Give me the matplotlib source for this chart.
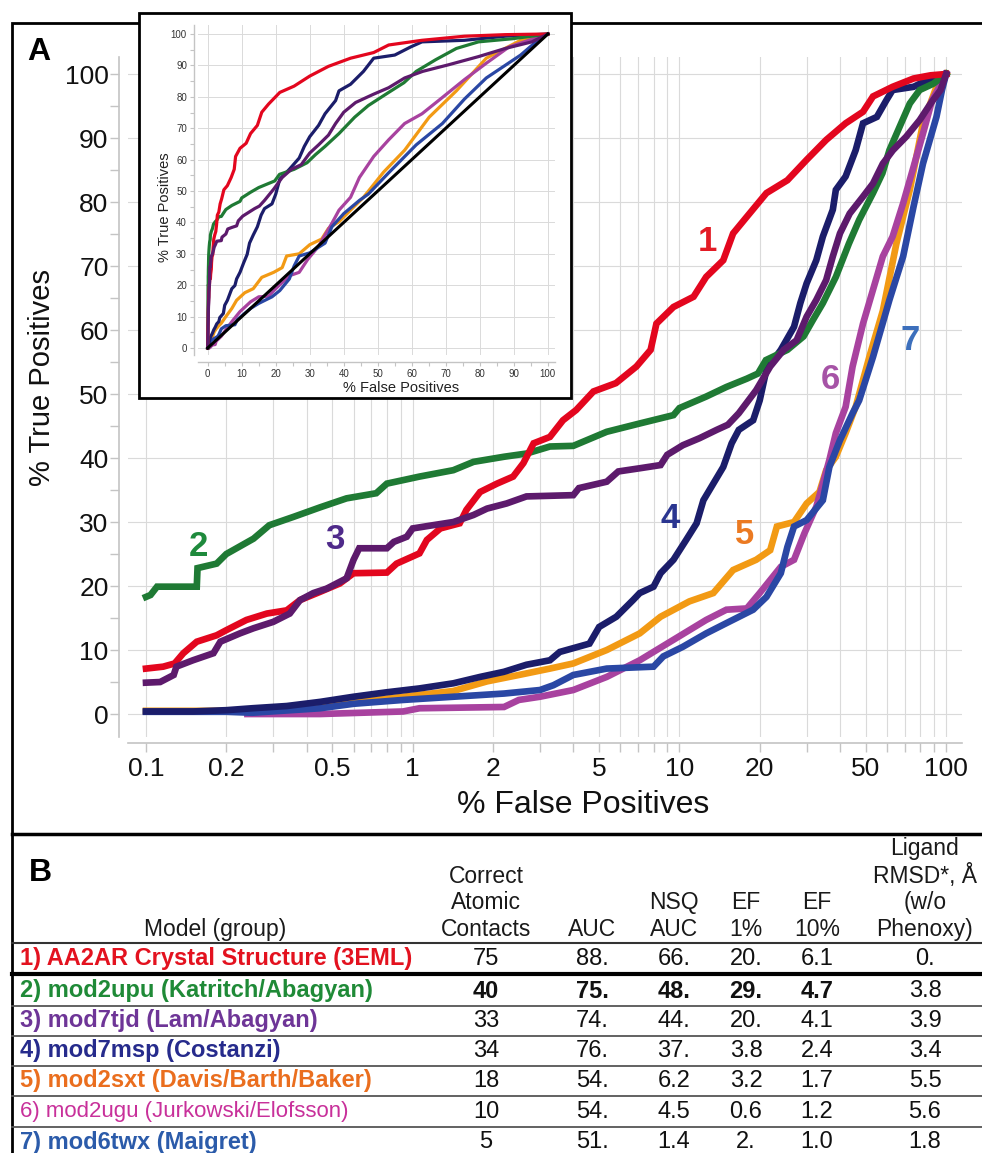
import numpy as np
import matplotlib
matplotlib.use('Agg')
import matplotlib.pyplot as plt
from matplotlib.patches import Rectangle
from matplotlib.lines import Line2D
from matplotlib.ticker import FixedLocator, FixedFormatter, NullFormatter, MultipleLocator

plt.rcParams['font.family'] = ['Liberation Sans', 'DejaVu Sans']

# ---------------- data (ROC curves, % false positives vs % true positives) -------------
fp1 = [0.1, 0.116, 0.128, 0.138, 0.155, 0.184, 0.2, 0.238, 0.284, 0.337, 0.378, 0.45, 0.533, 0.6, 0.8,
       0.87, 1.06, 1.13, 1.27, 1.5, 1.59, 1.79, 2.07, 2.38, 2.6, 2.84, 3.27, 3.66, 4.1, 4.76, 5.78, 6.9,
       7.8, 8.2, 9.5, 11.3, 12.6, 14.6, 15.9, 17.9, 21.2, 25.4, 30, 35.5, 42, 48.8, 53.2, 63, 75.5, 87.5, 100]
tp1 = [7.1, 7.4, 7.9, 9.5, 11.3, 12.3, 13.1, 14.7, 15.7, 16.2, 17.8, 19.1, 20.4, 22.0, 22.1,
       23.5, 25.1, 27.2, 29.0, 29.8, 31.9, 34.7, 36.0, 37.1, 39.2, 42.3, 43.3, 45.9, 47.5, 50.4, 51.7, 54.3,
       56.9, 61.0, 63.6, 65.2, 68.3, 70.9, 75.1, 77.7, 81.4, 83.4, 86.6, 89.7, 92.3, 94.1, 96.5, 98.0, 99.3, 99.8, 100]

fp2 = [0.1, 0.104, 0.11, 0.155, 0.156, 0.184, 0.2, 0.253, 0.29, 0.357, 0.45, 0.565, 0.73, 0.8, 1.06,
       1.42, 1.69, 2.2, 2.67, 3.27, 4.0, 5.34, 7.1, 9.5, 10, 12.6, 15, 17.9, 19.7, 21.1,
       25.4, 29.2, 31.7, 34.5, 38.6, 43.2, 47.2, 53.2, 57.7, 61.3, 67, 73.1, 79.6, 89.6, 100]
tp2 = [18.3, 18.6, 19.9, 19.9, 22.8, 23.5, 25.0, 27.4, 29.5, 30.8, 32.3, 33.7, 34.5, 36.0, 37.1,
       38.1, 39.4, 40.2, 40.7, 41.8, 41.9, 44.1, 45.4, 46.7, 47.8, 49.6, 51.1, 52.4, 53.2, 55.3,
       56.9, 59.0, 61.6, 64.2, 68.3, 73.5, 77.2, 81.4, 84.5, 88.1, 91.8, 95.4, 97.5, 98.5, 100]

fp3 = [0.1, 0.113, 0.127, 0.13, 0.15, 0.179, 0.19, 0.225, 0.253, 0.3, 0.346, 0.378, 0.424, 0.476, 0.565,
       0.6, 0.63, 0.8, 0.85, 0.95, 1.0, 1.19, 1.42, 1.69, 1.9, 2.25, 2.67, 3.27, 4.0, 4.2,
       5.34, 5.9, 7.1, 8.5, 9.0, 10.3, 11.9, 13.8, 15.2, 16.7, 19.4, 21.9, 24.6, 27.5, 30,
       32.6, 35.5, 37.6, 40, 43.5, 48.7, 53.2, 57.9, 63.2, 70.8, 79.6, 87.5, 95.3, 100]
tp3 = [4.9, 5.0, 6.1, 7.4, 8.4, 9.5, 11.3, 12.6, 13.4, 14.4, 15.7, 17.8, 18.9, 19.6, 21.2,
       24.1, 25.9, 25.9, 26.9, 27.7, 29.0, 29.5, 30.0, 31.1, 32.1, 32.9, 34.0, 34.1, 34.2, 35.3,
       36.3, 37.9, 38.4, 38.9, 40.5, 42.0, 43.1, 44.4, 45.2, 47.0, 50.6, 54.3, 56.9, 58.4, 62.1,
       64.7, 67.8, 71.5, 75.1, 78.2, 80.8, 82.9, 86.0, 88.1, 90.2, 92.8, 95.4, 97.5, 100]

fp4 = [0.1, 0.15, 0.2, 0.25, 0.337, 0.45, 0.6, 0.8, 1.06, 1.42, 1.79, 2.2, 2.67, 3.27, 3.56,
       4.6, 5.0, 5.8, 6.7, 7.1, 8.0, 8.5, 9.5, 10.6, 11.6, 12.3, 13.4, 14.6, 15.7, 16.7,
       18.9, 20, 21.2, 24, 26.9, 28.4, 30, 32.6, 34.5, 37.6, 38.6, 42, 45.8, 48.8, 55,
       59.7, 63, 75.5, 87.5, 100]
tp4 = [0.4, 0.4, 0.6, 0.9, 1.25, 1.9, 2.7, 3.4, 4.0, 4.8, 5.8, 6.6, 7.7, 8.4, 9.7,
       11.0, 13.6, 15.2, 17.8, 18.9, 19.9, 22.0, 24.1, 27.2, 29.8, 33.4, 36.0, 38.6, 42.3, 44.4,
       45.9, 49.0, 53.8, 56.9, 60.5, 64.2, 67.3, 70.9, 74.6, 78.8, 81.9, 84.0, 88.1, 92.3, 93.3,
       95.9, 97.5, 98.0, 99.3, 100]

fp5 = [0.1, 0.2, 0.3, 0.45, 0.6, 0.8, 1.06, 1.42, 1.9, 2.5, 3.27, 4.0, 5.34, 7.1, 8.5,
       10.9, 13.4, 15.9, 19.4, 21.9, 23.2, 26.9, 30, 33.5, 35.5, 38.6, 42, 45.8, 51.7, 57.9,
       65.1, 73.1, 81.9, 92, 100]
tp5 = [0.5, 0.5, 0.8, 1.3, 1.9, 2.4, 3.0, 3.6, 5.1, 6.1, 7.1, 7.9, 10.0, 12.6, 15.2,
       17.6, 18.9, 22.5, 24.1, 25.6, 29.3, 30.0, 32.9, 34.7, 38.1, 40.2, 43.9, 48.0, 56.0, 63.0,
       73.5, 81.9, 92.3, 98.0, 100]

fp6 = [0.24, 0.45, 0.92, 1.06, 2.2, 2.5, 3.0, 4.0, 5.34, 7.1, 9.5, 12.6, 15, 17.9, 20,
       24, 26.9, 29.4, 32.6, 34.5, 36.5, 38.6, 42, 44.6, 48.8, 53.2, 57.9, 63, 69, 75.5,
       81.9, 88.6, 100]
tp6 = [0.0, 0.0, 0.4, 0.9, 1.1, 2.2, 2.7, 3.75, 5.8, 8.4, 11.6, 14.7, 16.3, 16.5, 18.9,
       23.0, 24.1, 28.2, 32.4, 36.0, 39.7, 43.9, 48.0, 54.3, 61.0, 66.3, 71.5, 74.6, 79.8, 85.5,
       90.7, 95.9, 100]

fp7 = [0.1, 0.2, 0.25, 0.45, 0.6, 0.92, 1.42, 2.2, 3.0, 3.37, 4.0, 5.34, 8.0, 8.7, 10.3,
       12.6, 15, 18.9, 21.2, 24, 25.4, 26.9, 30, 34.5, 36.5, 40, 44.6, 47.2, 53.2, 61.3,
       69, 75.5, 81.9, 92, 96.5, 100]
tp7 = [0.35, 0.35, 0.2, 0.9, 1.6, 2.2, 2.7, 3.2, 3.75, 4.5, 6.1, 7.1, 7.4, 9.0, 10.5,
       12.6, 14.2, 16.3, 18.3, 22.0, 26.1, 29.3, 30.3, 33.4, 38.6, 42.8, 47.0, 49.0, 55.8, 64.7,
       71.5, 79.3, 86.0, 93.3, 97.5, 100]

random_fp = [0, 100]
random_tp = [0, 100]

curve_ids = ['1', '2', '3', '4', '5', '6', '7']
curve_colors = ['#E3061E', '#1F7A34', '#5D1A6C', '#1B1D6A', '#F29A14', '#A8429F', '#2A47A4']
label_colors = ['#E31B25', '#1E8A3C', '#4F2A8A', '#2A3590', '#EB7A22', '#A653A6', '#3C6FBC']

main_xticks = [0.1, 0.2, 0.5, 1, 2, 5, 10, 20, 50, 100]
main_xticklabels = ['0.1', '0.2', '0.5', '1', '2', '5', '10', '20', '50', '100']
main_xminor = [0.3, 0.4, 0.6, 0.7, 0.8, 0.9, 3, 4, 6, 7, 8, 9, 30, 40, 60, 70, 80, 90]

# table
row_labels = ['1) AA2AR Crystal Structure (3EML)', '2) mod2upu (Katritch/Abagyan)',
              '3) mod7tjd (Lam/Abagyan)', '4) mod7msp (Costanzi)',
              '5) mod2sxt (Davis/Barth/Baker)', '6) mod2ugu (Jurkowski/Elofsson)',
              '7) mod6twx (Maigret)']
row_text_colors = ['#E3121F', '#1F8A37', '#6E3597', '#262B8C', '#EA6E1E', '#C8309A', '#2B5BAA']
col_headers = ['Model (group)', 'Correct\nAtomic\nContacts', 'AUC', 'NSQ\nAUC', 'EF\n1%', 'EF\n10%',
               'Ligand\nRMSD*, Å\n(w/o\nPhenoxy)']
contacts = ['75', '40', '33', '34', '18', '10', '5']
auc = ['88.', '75.', '74.', '76.', '54.', '54.', '51.']
nsq_auc = ['66.', '48.', '44.', '37.', '6.2', '4.5', '1.4']
ef1 = ['20.', '29.', '20.', '3.8', '3.2', '0.6', '2.']
ef10 = ['6.1', '4.7', '4.1', '2.4', '1.7', '1.2', '1.0']
rmsd = ['0.', '3.8', '3.9', '3.4', '5.5', '5.6', '1.8']

fps = [fp1, fp2, fp3, fp4, fp5, fp6, fp7]
tps = [tp1, tp2, tp3, tp4, tp5, tp6, tp7]

# ---------------- figure ----------------
W, H = 982, 1153
fig = plt.figure(figsize=(W / 100, H / 100), dpi=100)
fig.patch.set_facecolor('white')


def fx(px):
    return px / W


def fy(py):
    return 1 - py / H


GRID = '#dadada'
AXC = '#c4c4c4'

# Panel A frame
fig.add_artist(Rectangle((fx(12), fy(834)), fx(1010) - fx(12), fy(23) - fy(834),
                         transform=fig.transFigure, fill=False, ec='black', lw=2.0, zorder=0.5))

# ---------------- main axes ----------------
ax = fig.add_axes([fx(128), fy(737), fx(962) - fx(128), fy(57) - fy(737)], zorder=0)
ax.set_xscale('log')
ax.set_xlim(0.0856, 114.7)
ax.set_ylim(-3.59, 102.66)
for s in ['top', 'right']:
    ax.spines[s].set_visible(False)
ax.spines['left'].set_position(('outward', 6.5))
ax.spines['bottom'].set_position(('outward', 4.3))
for s in ['left', 'bottom']:
    ax.spines[s].set_color(AXC)
    ax.spines[s].set_linewidth(1.2)

ax.xaxis.set_major_locator(FixedLocator(main_xticks))
ax.xaxis.set_major_formatter(FixedFormatter(main_xticklabels))
ax.xaxis.set_minor_locator(FixedLocator(main_xminor))
ax.xaxis.set_minor_formatter(NullFormatter())
ax.yaxis.set_major_locator(MultipleLocator(10))
ax.yaxis.set_minor_locator(MultipleLocator(5))
ax.set_yticks(np.arange(0, 101, 10))
ax.tick_params(axis='both', which='both', direction='out', length=6.5, width=1.0, color=AXC)
ax.tick_params(axis='x', which='major', labelsize=19, pad=3.5, labelcolor='#111111')
ax.tick_params(axis='y', which='major', labelsize=19, pad=1.0, labelcolor='#111111')
ax.grid(True, axis='x', which='both', color=GRID, lw=0.8)
ax.grid(True, axis='y', which='major', color=GRID, lw=0.8)
ax.set_axisbelow(True)

draw_order = [4, 5, 6, 3, 1, 0, 2]
for i in draw_order:
    x = np.asarray(fps[i], float)
    y = np.asarray(tps[i], float)
    ax.plot(x, y, color=curve_colors[i], lw=4.8, solid_joinstyle='miter', zorder=3 + draw_order.index(i))

label_pos = [(12.7, 73.8), (0.157, 26.1), (0.51, 27.2), (9.2, 30.6), (17.6, 28.0), (36.7, 52.2), (73.0, 58.4)]
for cid, (lx, ly), c in zip(curve_ids, label_pos, label_colors):
    ax.text(lx, ly, cid, color=c, fontsize=25, fontweight='bold', ha='center', va='center', zorder=20)

fig.text(fx(42), fy(378), '% True Positives', rotation=90, fontsize=21, ha='center', va='center', color='#111111')
fig.text(fx(583), fy(805), '% False Positives', fontsize=23, ha='center', va='center', color='#111111')
fig.text(fx(39), fy(52), 'A', fontsize=23, fontweight='bold', ha='center', va='center')

# ---------------- inset ----------------
fig.add_artist(Rectangle((fx(139), fy(398)), fx(571) - fx(139), fy(13) - fy(398),
                         transform=fig.transFigure, fc='white', ec='black', lw=2.0, zorder=1))
axi = fig.add_axes([fx(198), fy(355), fx(555) - fx(198), fy(25) - fy(355)], zorder=2)
axi.set_xlim(-2.85, 102.1)
axi.set_ylim(-2.23, 102.87)
for s in ['top', 'right']:
    axi.spines[s].set_visible(False)
axi.spines['left'].set_position(('outward', 3))
axi.spines['bottom'].set_position(('outward', 5))
for s in ['left', 'bottom']:
    axi.spines[s].set_color(AXC)
    axi.spines[s].set_linewidth(1.0)
axi.xaxis.set_major_locator(MultipleLocator(10))
axi.xaxis.set_minor_locator(MultipleLocator(5))
axi.yaxis.set_major_locator(MultipleLocator(10))
axi.yaxis.set_minor_locator(MultipleLocator(5))
axi.tick_params(axis='both', which='both', direction='out', length=3, width=0.8, color=AXC,
                labelsize=7, labelcolor='#333333', pad=2)
axi.grid(True, which='major', color=GRID, lw=0.7)
axi.set_axisbelow(True)
axi.plot(random_fp, random_tp, color='black', lw=2.2, zorder=20)
for i in draw_order:
    x = np.concatenate([[0.0], np.asarray(fps[i], float)])
    y = np.concatenate([[0.0], np.asarray(tps[i], float)])
    axi.plot(x, y, color=curve_colors[i], lw=2.3, zorder=3 + draw_order.index(i))
fig.text(fx(401), fy(388), '% False Positives', fontsize=10.5, ha='center', va='center', color='#222222', zorder=3)
fig.text(fx(165), fy(207), '% True Positives', fontsize=10.5, rotation=90, ha='center', va='center',
         color='#222222', zorder=3)

# ---------------- table (panel B) ----------------
fig.add_artist(Line2D([fx(12), fx(12)], [fy(834), fy(1153)], transform=fig.transFigure, color='black', lw=2.0))
fig.add_artist(Line2D([fx(12), 1], [fy(834), fy(834)], transform=fig.transFigure, color='black', lw=2.5))
fig.add_artist(Line2D([fx(12), 1], [fy(943), fy(943)], transform=fig.transFigure, color='#333333', lw=1.5))
fig.add_artist(Line2D([fx(12), 1], [fy(974), fy(974)], transform=fig.transFigure, color='black', lw=3.0))
for yl in [1006, 1036, 1066, 1096, 1127]:
    fig.add_artist(Line2D([fx(12), 1], [fy(yl), fy(yl)], transform=fig.transFigure, color='#555555', lw=1.3))

fig.text(fx(40), fy(873), 'B', fontsize=23, fontweight='bold', ha='center', va='center')

col_x = [215, 486, 592, 674, 746, 817, 925]
for hx, htxt in zip(col_x, col_headers):
    fig.text(fx(hx), fy(941), htxt, fontsize=16.5, ha='center', va='bottom', linespacing=1.2, color='#1a1a1a')

row_y = [959, 991, 1021, 1051, 1081, 1112, 1142]
for r in range(len(row_labels)):
    bold_label = r != 5
    fig.text(fx(20), fy(row_y[r]), row_labels[r], fontsize=17 if bold_label else 16,
             fontweight='bold' if bold_label else 'normal', color=row_text_colors[r], ha='left', va='center')
    vals = [contacts[r], auc[r], nsq_auc[r], ef1[r], ef10[r], rmsd[r]]
    for k, (vx, v) in enumerate(zip(col_x[1:], vals)):
        bold = (r == 1 and k < 5)
        fig.text(fx(vx), fy(row_y[r]), v, fontsize=17, fontweight='bold' if bold else 'normal',
                 ha='center', va='center', color='#111111')

fig.savefig('out.png', dpi=100, facecolor='white')
